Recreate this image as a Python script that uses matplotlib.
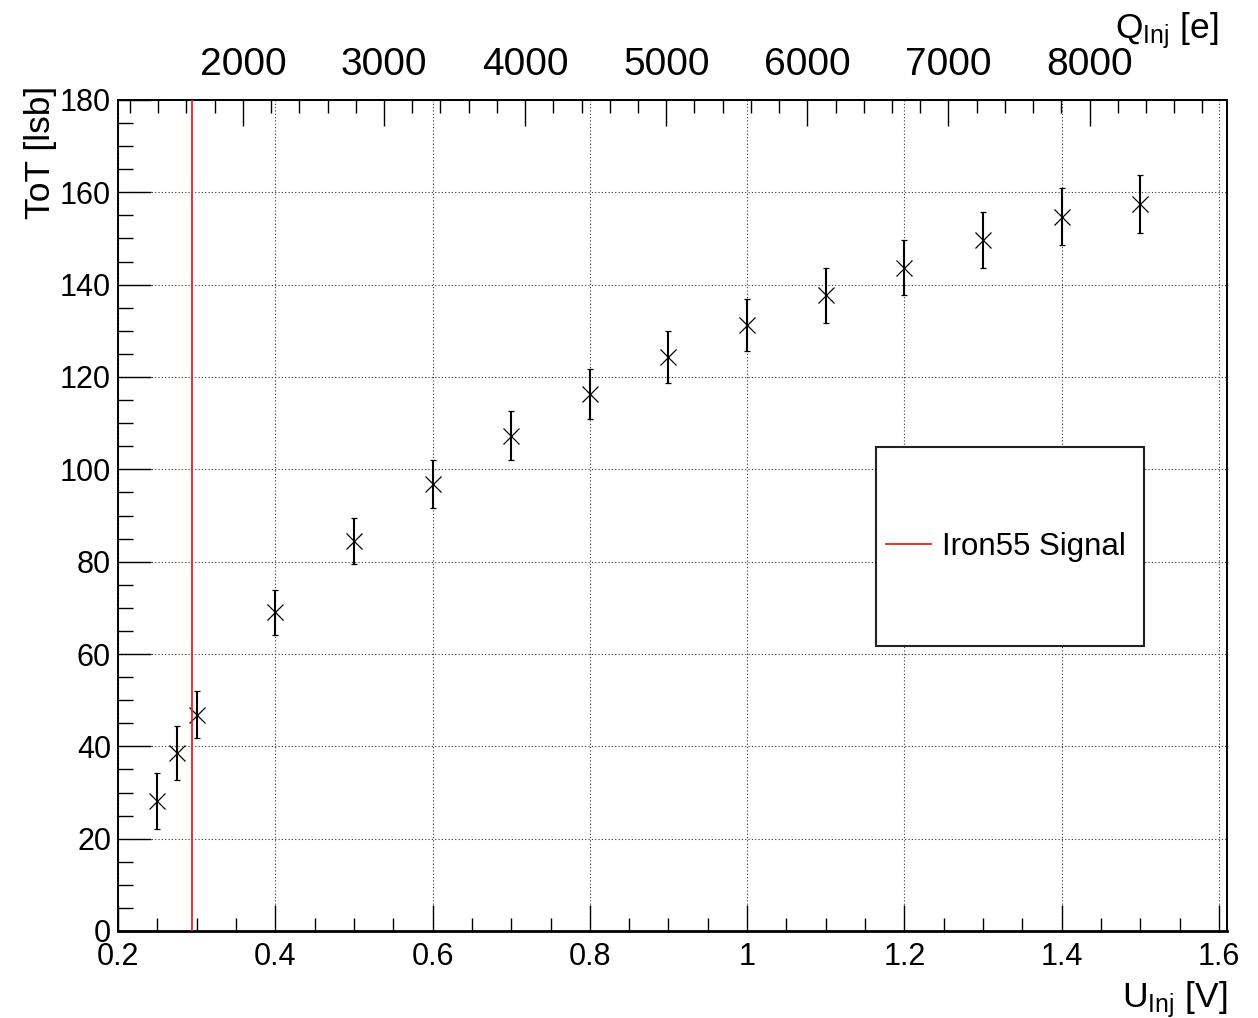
import matplotlib
matplotlib.use("Agg")
import matplotlib.pyplot as plt
from matplotlib.patches import Rectangle
from matplotlib.ticker import MultipleLocator

plt.rcParams['font.family'] = ['Liberation Sans', 'DejaVu Sans']
plt.rcParams['mathtext.fontset'] = 'custom'
plt.rcParams['mathtext.rm'] = 'Liberation Sans'
plt.rcParams['mathtext.it'] = 'Liberation Sans:italic'

# injection voltage scan
u_inj = [0.25, 0.275, 0.3, 0.4, 0.5, 0.6, 0.7, 0.8, 0.9, 1.0, 1.1, 1.2, 1.3, 1.4, 1.5]
tot = [28.2, 38.5, 46.8, 69.0, 84.5, 96.8, 107.3, 116.3, 124.3, 131.3, 137.7, 143.7, 149.7, 154.7, 157.4]
tot_err = [6.0, 5.8, 5.1, 4.8, 5.0, 5.2, 5.3, 5.4, 5.7, 5.6, 5.9, 6.0, 6.1, 6.2, 6.3]

iron55_u = 0.2935          # Fe55 signal in volts
e_per_volt = 5573.0        # injection capacitance conversion
q_ticks = [2000, 3000, 4000, 5000, 6000, 7000, 8000]

fig = plt.figure(figsize=(12.58, 10.18), dpi=100)
ax = fig.add_axes([118/1258, 87/1018, 1109/1258, 831/1018])

ax.set_xlim(0.2, 1.6102)
ax.set_ylim(0, 180)

ax.grid(True, which='major', color='#333333', linestyle=(0, (1, 2)), linewidth=0.8)
ax.set_axisbelow(True)

ax.errorbar(u_inj, tot, yerr=tot_err, fmt='x', color='black', markersize=11,
            markeredgewidth=0.9, elinewidth=1.5, capsize=2.5, capthick=1.5, zorder=3)

ax.axvline(iron55_u, color='#e8201f', linewidth=1.3, zorder=4, label='Iron55 Signal')

ax.xaxis.set_major_locator(MultipleLocator(0.2))
ax.xaxis.set_minor_locator(MultipleLocator(0.05))
ax.yaxis.set_major_locator(MultipleLocator(20))
ax.yaxis.set_minor_locator(MultipleLocator(5))
ax.set_xticks([0.2, 0.4, 0.6, 0.8, 1.0, 1.2, 1.4, 1.6])
ax.set_xticklabels(['0.2', '0.4', '0.6', '0.8', '1', '1.2', '1.4', '1.6'])

ax.tick_params(axis='x', which='major', direction='in', length=18.7, width=1.0,
               labelsize=22, pad=8, top=False)
ax.tick_params(axis='x', which='minor', direction='in', length=9.4, width=1.0, top=False)
ax.tick_params(axis='y', which='major', direction='in', length=23.8, width=1.0,
               labelsize=22, pad=5, right=False)
ax.tick_params(axis='y', which='minor', direction='in', length=10.8, width=1.0, right=False)

for side in ['left', 'top', 'right']:
    ax.spines[side].set_linewidth(1.4)
ax.spines['bottom'].set_linewidth(2.0)

# charge axis on top
top = ax.secondary_xaxis('top', functions=(lambda u: u * e_per_volt, lambda q: q / e_per_volt))
top.set_xticks(q_ticks)
top.xaxis.set_minor_locator(MultipleLocator(200))
top.tick_params(axis='x', which='major', direction='in', length=18.7, width=1.0,
                labelsize=28, pad=12)
top.tick_params(axis='x', which='minor', direction='in', length=9.4, width=1.0)
top.spines['top'].set_linewidth(1.4)

fig.text(1227/1258, 1 - 1007/1018, r'U$_{\mathrm{Inj}}$ [V]', fontsize=25.5,
         ha='right', va='baseline')
fig.text(1219/1258, 1 - 38/1018, r'Q$_{\mathrm{Inj}}$ [e]', fontsize=25.5,
         ha='right', va='baseline')
fig.text(57/1258, 1 - 86/1018, 'ToT [lsb]', fontsize=25.5, rotation=90,
         ha='right', va='top')

# legend box
ax.add_patch(Rectangle((0.6832, 0.343), 0.242, 0.2394, transform=ax.transAxes,
                       facecolor='white', edgecolor='#222222', linewidth=1.5, zorder=5))
leg = ax.legend(loc='center left', bbox_to_anchor=(0.6925, 0.4625), frameon=False,
                fontsize=22.5, borderpad=0, borderaxespad=0,
                handlelength=1.45, handletextpad=0.35)
leg.set_zorder(6)

fig.savefig('out.png', dpi=100)
